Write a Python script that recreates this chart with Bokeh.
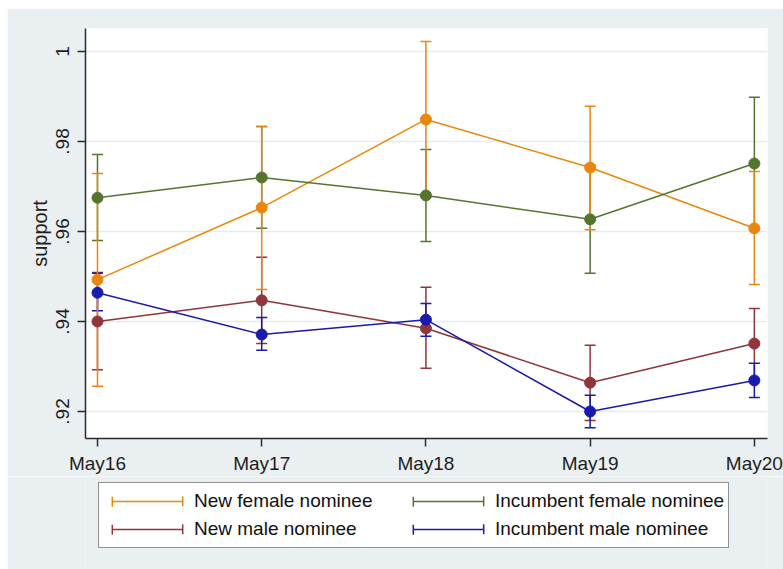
from bokeh.plotting import figure
from bokeh.layouts import column
from bokeh.models import (ColumnDataSource, Whisker, TeeHead, FixedTicker, Legend,
                          LegendItem, Range1d)
from bokeh.embed import file_html
from bokeh.resources import INLINE

# ---- data ----
dates = ["May16", "May17", "May18", "May19", "May20"]
y_ticks = [0.92, 0.94, 0.96, 0.98, 1.0]
y_tick_labels = [".92", ".94", ".96", ".98", "1"]

new_female = [0.9493, 0.9653, 0.9849, 0.9742, 0.9607]
new_female_lo = [0.9256, 0.9471, 0.9676, 0.9604, 0.9482]
new_female_hi = [0.9729, 0.9833, 1.0022, 0.9878, 0.9733]

inc_female = [0.9675, 0.9720, 0.9680, 0.9627, 0.9751]
inc_female_lo = [0.9580, 0.9607, 0.9578, 0.9507, 0.9604]
inc_female_hi = [0.9771, 0.9833, 0.9782, 0.9747, 0.9898]

new_male = [0.9400, 0.9447, 0.9385, 0.9264, 0.9351]
new_male_lo = [0.9293, 0.9351, 0.9296, 0.9180, 0.9273]
new_male_hi = [0.9509, 0.9543, 0.9476, 0.9347, 0.9429]

inc_male = [0.9464, 0.9371, 0.9404, 0.9200, 0.9269]
inc_male_lo = [0.9424, 0.9336, 0.9367, 0.9164, 0.9231]
inc_male_hi = [0.9507, 0.9409, 0.9440, 0.9236, 0.9307]

series = [
    ("New female nominee", new_female, new_female_lo, new_female_hi, "#e8870e"),
    ("New male nominee", new_male, new_male_lo, new_male_hi, "#90353b"),
    ("Incumbent female nominee", inc_female, inc_female_lo, inc_female_hi, "#55752f"),
    ("Incumbent male nominee", inc_male, inc_male_lo, inc_male_hi, "#1a1aae"),
]

FONT = "Liberation Sans"
BG = "#eaeff2"

p = figure(width=776, height=468, output_backend="svg", toolbar_location=None,
           x_range=Range1d(-0.073, 4.08), y_range=Range1d(0.914, 1.0051),
           min_border_left=78, min_border_right=16, min_border_top=20,
           min_border_bottom=37)
p.border_fill_color = BG
p.background_fill_color = "white"
p.outline_line_color = None

x = list(range(len(dates)))

# error bars first (orange drawn last among caps)
for name, v, lo, hi, col in [series[1], series[2], series[3], series[0]]:
    src = ColumnDataSource(dict(x=x, lo=lo, hi=hi))
    w = Whisker(base="x", lower="lo", upper="hi", source=src,
                line_color=col, line_width=1.5,
                upper_head=TeeHead(size=11, line_color=col, line_width=1.5),
                lower_head=TeeHead(size=11, line_color=col, line_width=1.5))
    p.add_layout(w)

for name, v, lo, hi, col in series:
    src = ColumnDataSource(dict(x=x, y=v))
    p.line("x", "y", source=src, line_color=col, line_width=1.5)
    p.scatter("x", "y", source=src, size=11, fill_color=col, line_color=col)

# axes
p.xaxis.ticker = FixedTicker(ticks=x)
p.xaxis.major_label_overrides = {i: d for i, d in enumerate(dates)}
p.yaxis.ticker = FixedTicker(ticks=y_ticks)
p.yaxis.major_label_overrides = {t: l for t, l in zip(y_ticks, y_tick_labels)}
p.yaxis.major_label_orientation = "vertical"
p.yaxis.axis_label = "support"

for ax in (p.xaxis[0], p.yaxis[0]):
    ax.axis_line_color = "#2b2b2b"
    ax.axis_line_width = 1.5
    ax.major_tick_line_color = "#2b2b2b"
    ax.major_tick_line_width = 1.5
    ax.major_tick_out = 8
    ax.major_tick_in = 0
    ax.minor_tick_line_color = None
    ax.major_label_text_font = FONT
    ax.major_label_text_font_size = "19px"
    ax.major_label_text_color = "#1e1e1e"
    ax.axis_label_text_font = FONT
    ax.axis_label_text_font_size = "20px"
    ax.axis_label_text_font_style = "normal"
    ax.axis_label_text_color = "#1e1e1e"

p.yaxis.major_label_standoff = 8
p.yaxis.axis_label_standoff = 3
p.xaxis.major_label_standoff = 6

p.xgrid.grid_line_color = None
p.ygrid.ticker = FixedTicker(ticks=y_ticks)
p.ygrid.grid_line_color = "#e6ebee"
p.ygrid.grid_line_width = 1.5

# ---- legend strip (frame aligned with the main plot's frame) ----
lp = figure(width=776, height=93, output_backend="svg", toolbar_location=None,
            x_range=Range1d(10, 11), y_range=Range1d(10, 11),
            x_axis_location=None, y_axis_location=None,
            min_border_left=0, min_border_right=0, min_border_top=0,
            min_border_bottom=0)
lp.border_fill_color = BG
lp.background_fill_color = BG
lp.outline_line_color = None
lp.grid.visible = False

items = []
for name, v, lo, hi, col in series:
    # the series drawn off-range: only their legend glyphs (line + end caps) show
    ln = lp.line(x, v, line_color=col, line_width=1.5, line_dash="0 9 70 100")
    cap = lp.rect(x, v, width=0.1, height=0.01, fill_color=None,
                  line_color=col, line_width=1.5, line_dash="0 70 10 70 10")
    items.append(LegendItem(label=name, renderers=[ln, cap]))

legend = Legend(items=items, ncols=2, location=(13, 21),
                label_text_font=FONT, label_text_font_size="19px",
                label_text_color="#111111",
                glyph_width=88, glyph_height=12, label_height=28,
                label_width=210, label_standoff=3, spacing=0, padding=4,
                border_line_color="#222222", border_line_width=1,
                background_fill_color="white", background_fill_alpha=1.0,
                margin=0)
lp.add_layout(legend, "center")

layout = column(p, lp, spacing=0, margin=(8, 0, 0, 7))
open("out.html", "w").write(file_html(layout, INLINE))
